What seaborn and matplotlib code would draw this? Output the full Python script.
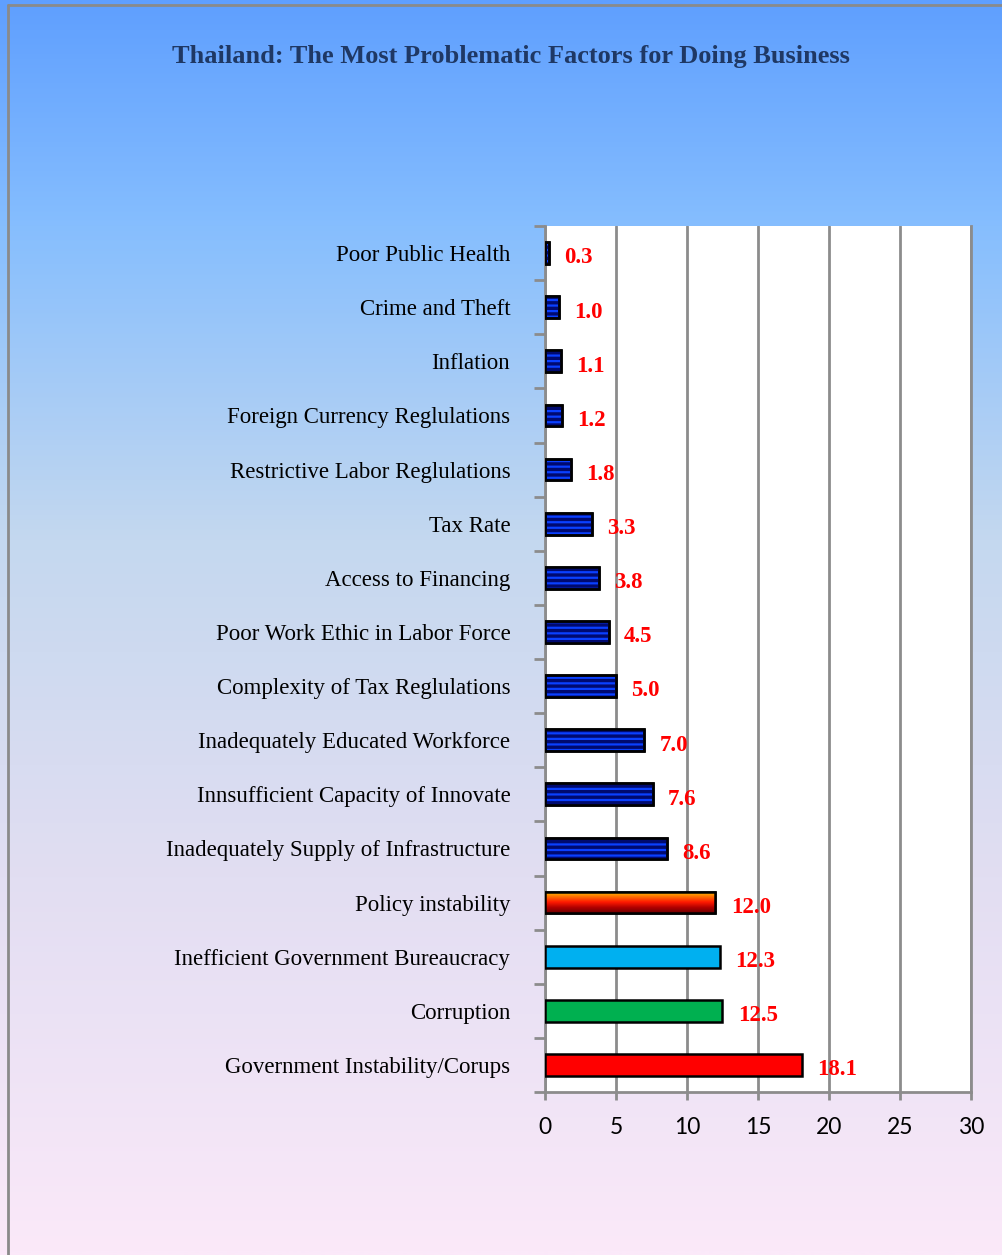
import numpy as np
import matplotlib
matplotlib.use("Agg")
import matplotlib.pyplot as plt
from matplotlib.colors import LinearSegmentedColormap
from matplotlib.ticker import FixedLocator
import seaborn as sns
import pandas as pd

categories = [
    "Poor Public Health",
    "Crime and Theft",
    "Inflation",
    "Foreign Currency Reglulations",
    "Restrictive Labor Reglulations",
    "Tax Rate",
    "Access to Financing",
    "Poor Work Ethic in Labor Force",
    "Complexity of Tax Reglulations",
    "Inadequately Educated Workforce",
    "Innsufficient Capacity of Innovate",
    "Inadequately Supply of Infrastructure",
    "Policy instability",
    "Inefficient Government Bureaucracy",
    "Corruption",
    "Government Instability/Corups",
]
values = [0.3, 1.0, 1.1, 1.2, 1.8, 3.3, 3.8, 4.5, 5.0, 7.0, 7.6, 8.6, 12.0, 12.3, 12.5, 18.1]
bar_colors = ["#0a40ff"] * 12 + ["#ff6600", "#00b0f0", "#00b050", "#ff0000"]
x_ticks = [0, 5, 10, 15, 20, 25, 30]
title = "Thailand: The Most Problematic Factors for Doing Business"

sns.set_theme(style="white")
plt.rcParams["font.family"] = ["Liberation Serif", "DejaVu Serif"]
plt.rcParams["hatch.linewidth"] = 2.4

fig = plt.figure(figsize=(10.03, 12.55), dpi=100)

# background gradient
bg = fig.add_axes([0, 0, 1, 1], zorder=-10)
bg_cmap = LinearSegmentedColormap.from_list(
    "bg", [(0.0, "#5f9fff"), (0.18, "#86befe"), (0.43, "#c4d8ef"),
           (0.70, "#e2def2"), (1.0, "#fbe9f9")])
grad = np.linspace(0, 1, 512).reshape(-1, 1)
bg.imshow(grad, aspect="auto", cmap=bg_cmap, extent=[0, 1, 1, 0])
bg.set_xlim(0, 1); bg.set_ylim(1, 0)
bg.axis("off")
bg.plot([8.5 / 1003, 8.5 / 1003], [5 / 1255, 1], color="#8a8a8a", lw=2)
bg.plot([8.5 / 1003, 1], [5 / 1255, 5 / 1255], color="#8a8a8a", lw=2)

ax = fig.add_axes([545 / 1003, 1 - 1092 / 1255, (971 - 545) / 1003, (1092 - 226) / 1255])
df = pd.DataFrame({"factor": categories, "value": values})
sns.barplot(data=df, x="value", y="factor", hue="factor", palette=bar_colors,
            legend=False, orient="h", width=0.4, ax=ax, saturation=1)
ax.set_facecolor("white")
ax.set_xlabel("")
ax.set_ylabel("")
ax.set_axisbelow(True)
ax.xaxis.grid(True, color="#8c8c8c", lw=2)
ax.yaxis.grid(False)
ax.set_xticks(x_ticks)
ax.set_xticklabels([str(t) for t in x_ticks], fontfamily="Lato", fontsize=16.5, color="black")
ax.tick_params(axis="x", length=6, width=2, color="#8c8c8c", pad=12, bottom=True)
ax.tick_params(axis="y", which="major", length=0, pad=25, labelsize=16.5, labelcolor="black")
ax.yaxis.set_minor_locator(FixedLocator(np.arange(-0.5, 16, 1)))
ax.tick_params(axis="y", which="minor", length=8, width=2, color="#8c8c8c", left=True)
for s in ["left", "bottom", "right"]:
    ax.spines[s].set_visible(True)
    ax.spines[s].set_color("#8c8c8c")
    ax.spines[s].set_linewidth(2)
ax.spines["top"].set_visible(False)

patches = sorted(ax.patches, key=lambda p: p.get_y())
gcmap = LinearSegmentedColormap.from_list("pol", ["#ffd000", "#ff7000", "#ff1a00", "#b00000", "#700000"])
for i, p in enumerate(patches):
    p.set_edgecolor("black")
    p.set_linewidth(1.8)
    p.set_zorder(3)
    x0, y0, w, h = p.get_x(), p.get_y(), p.get_width(), p.get_height()
    if i < 12:
        stripe = plt.Rectangle((x0, y0), w, h, facecolor="none", edgecolor="#000a70",
                               hatch="---", lw=0, zorder=4)
        ax.add_patch(stripe)
        outline = plt.Rectangle((x0, y0), w, h, facecolor="none", edgecolor="black",
                                lw=1.8, zorder=5)
        ax.add_patch(outline)
    elif i == 12:
        im = ax.imshow(np.linspace(0, 1, 100).reshape(-1, 1), cmap=gcmap, aspect="auto",
                       extent=[x0, x0 + w, y0 + h, y0], zorder=3.5)
        im.set_clip_path(p)
        outline = plt.Rectangle((x0, y0), w, h, facecolor="none", edgecolor="black",
                                lw=1.8, zorder=5)
        ax.add_patch(outline)
ax.set_xlim(0, 30)
ax.set_ylim(15.5, -0.5)

for i, v in enumerate(values):
    ax.annotate(f"{v:.1f}", xy=(v, i), xytext=(11, -3.5), textcoords="offset points",
                ha="left", va="center", color="red", fontsize=16.5, fontweight="bold", zorder=6)

fig.text(511 / 1003, 1 - 56 / 1255, title, ha="center", va="center",
         fontsize=19, fontweight="bold", color="#1f3864")

fig.savefig("out.png", dpi=100)
